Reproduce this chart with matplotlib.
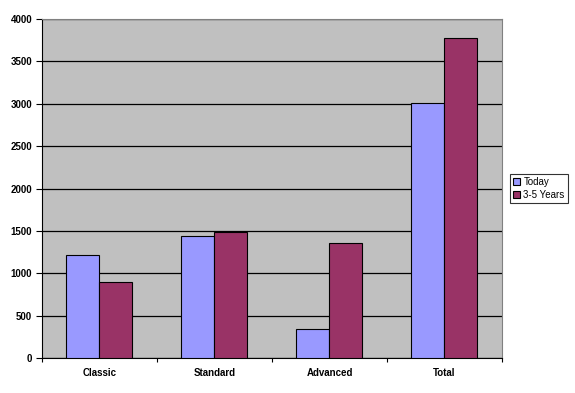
import matplotlib.pyplot as plt
import numpy as np

# Datos
categories = ['Classic', 'Standard', 'Advanced', 'Total']
today = [1215, 1436, 338, 3005]
years_3_5 = [893, 1490, 1353, 3772]
series_names = ['Today', '3-5 Years']
y_ticks = [0, 500, 1000, 1500, 2000, 2500, 3000, 3500, 4000]

plt.rcParams['font.family'] = ['Liberation Sans', 'DejaVu Sans']

fig = plt.figure(figsize=(5.75, 3.93), dpi=100)
ax = fig.add_axes([0.073, 0.089, 0.8, 0.8626])
ax.set_facecolor('#C0C0C0')

x = np.arange(len(categories))
w = 0.287
ax.bar(x - w / 2, today, w, color='#9999FF', edgecolor='black', linewidth=0.8,
       label=series_names[0], zorder=3)
ax.bar(x + w / 2, years_3_5, w, color='#993366', edgecolor='black', linewidth=0.8,
       label=series_names[1], zorder=3)

ax.set_xlim(-0.5, len(categories) - 0.5)
ax.set_ylim(0, 4000)
ax.set_yticks(y_ticks)
ax.set_yticklabels([str(v) for v in y_ticks], fontsize=7, fontweight='bold')
ax.yaxis.grid(True, color='black', linewidth=0.9, zorder=1)
ax.set_axisbelow(True)

# ticks en los bordes de las categorias, etiquetas centradas
ax.set_xticks(np.arange(len(categories) + 1) - 0.5)
ax.set_xticklabels([])
ax.set_xticks(x, minor=True)
ax.set_xticklabels(categories, minor=True, fontsize=7, fontweight='bold')
ax.tick_params(axis='x', which='minor', length=0, pad=7.5)
ax.tick_params(axis='x', which='major', length=3, direction='out', color='black')
ax.tick_params(axis='y', length=4, direction='out', pad=3)

for side in ['top', 'right']:
    ax.spines[side].set_color('#808080')
ax.spines['left'].set_color('black')
ax.spines['bottom'].set_color('black')

leg = ax.legend(loc='center left', bbox_to_anchor=(1.017, 0.5), fontsize=7,
                frameon=True, fancybox=False, edgecolor='black',
                handlelength=0.7, handleheight=0.7, handletextpad=0.4,
                borderpad=0.3, labelspacing=0.3, borderaxespad=0)
leg.get_frame().set_linewidth(0.8)

plt.savefig('out.png', dpi=100)
